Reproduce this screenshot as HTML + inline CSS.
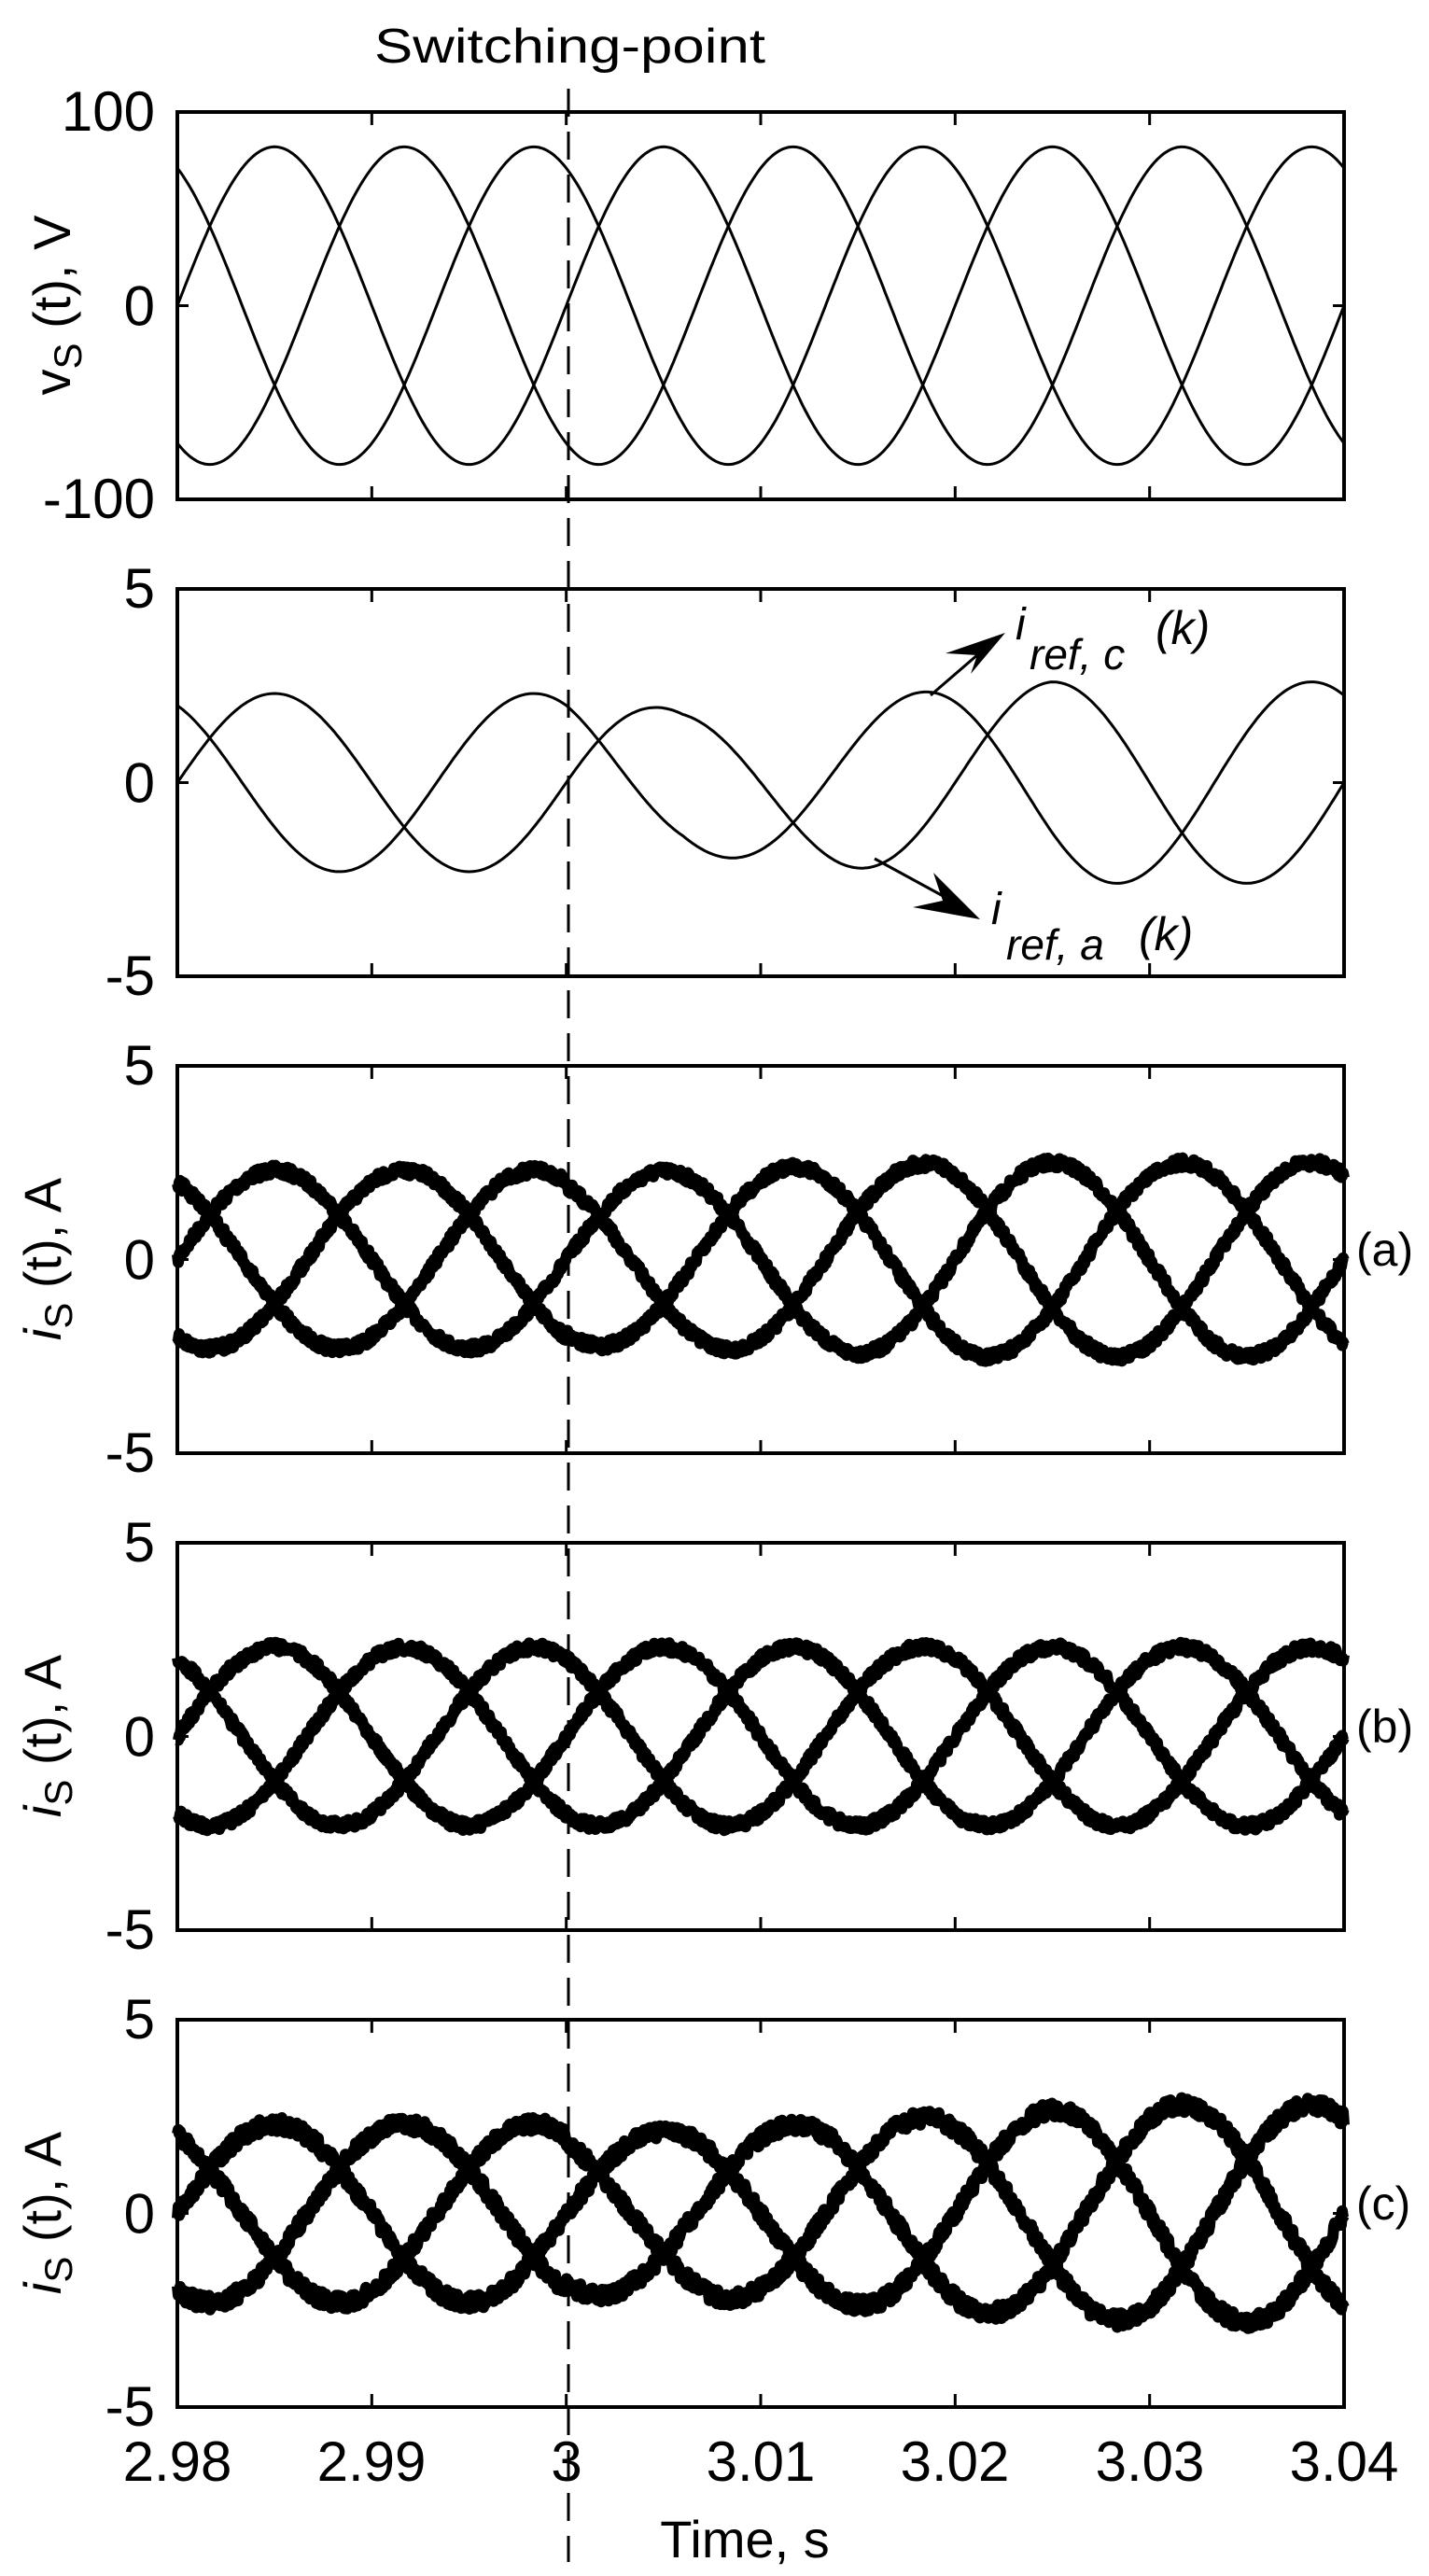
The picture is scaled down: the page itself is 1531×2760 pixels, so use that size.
<!DOCTYPE html>
<html><head><meta charset="utf-8"><style>
html,body{margin:0;padding:0;background:#fff;}
svg{display:block;}
text{font-family:"Liberation Sans",Arial,sans-serif;fill:#000;}
</style></head><body>
<svg id="s" width="1531" height="2760" viewBox="0 0 1531 2760" xmlns="http://www.w3.org/2000/svg">
<rect width="1531" height="2760" fill="#fff"/>
<g id="curves"></g>
<g id="frames" fill="none" stroke="#000" stroke-width="4"></g>
<line x1="609" y1="95" x2="609" y2="2745" stroke="#000" stroke-width="3" stroke-dasharray="30,16"/>
<text x="401" y="67" font-size="52" textLength="419" lengthAdjust="spacingAndGlyphs">Switching-point</text>
<g id="labels" font-size="60" text-anchor="end"></g>
<g font-size="60" text-anchor="middle">
<text x="190" y="2658">2.98</text><text x="398" y="2658">2.99</text><text x="607" y="2658">3</text>
<text x="815" y="2658">3.01</text><text x="1023" y="2658">3.02</text><text x="1232" y="2658">3.03</text><text x="1440" y="2658">3.04</text>
</g>
<text x="798" y="2740" font-size="56" text-anchor="middle">Time, s</text>
<text transform="translate(75,327) rotate(-90)" font-size="56" text-anchor="middle"><tspan>v</tspan><tspan font-size="42" dy="12">S</tspan><tspan dy="-12"> (t), V</tspan></text>
<text transform="translate(65,1349) rotate(-90)" font-size="56" text-anchor="middle"><tspan font-style="italic">i</tspan><tspan font-size="42" dy="12">S</tspan><tspan dy="-12"> (t), A</tspan></text>
<text transform="translate(65,1860) rotate(-90)" font-size="56" text-anchor="middle"><tspan font-style="italic">i</tspan><tspan font-size="42" dy="12">S</tspan><tspan dy="-12"> (t), A</tspan></text>
<text transform="translate(65,2371) rotate(-90)" font-size="56" text-anchor="middle"><tspan font-style="italic">i</tspan><tspan font-size="42" dy="12">S</tspan><tspan dy="-12"> (t), A</tspan></text>
<text x="1453" y="1356" font-size="50">(a)</text>
<text x="1453" y="1867" font-size="50">(b)</text>
<text x="1453" y="2378" font-size="50">(c)</text>
<line x1="997" y1="745" x2="1055" y2="695" stroke="#000" stroke-width="3"/>
<polygon points="1077,678 1040,722 1047,702 1013,700" fill="#000"/>
<line x1="937" y1="920" x2="1025" y2="968" stroke="#000" stroke-width="3"/>
<polygon points="1050,985 1000,935 1010,965 978,972" fill="#000"/>
<text x="1088" y="685" font-size="48" font-style="italic">i</text>
<text x="1103" y="717" font-size="46" font-style="italic">ref, c</text>
<text x="1238" y="690" font-size="50" font-style="italic">(k)</text>
<text x="1062" y="990" font-size="48" font-style="italic">i</text>
<text x="1078" y="1028" font-size="46" font-style="italic">ref, a</text>
<text x="1220" y="1018" font-size="50" font-style="italic">(k)</text>
</svg>
<script>
(function(){
var NS="http://www.w3.org/2000/svg";
var L=190,R=1440,W=R-L,H=415,tops=[120,631,1142,1653,2164];
var fr=document.getElementById('frames'),cv=document.getElementById('curves'),lb=document.getElementById('labels');
function el(p,n,a){var e=document.createElementNS(NS,n);for(var k in a)e.setAttribute(k,a[k]);p.appendChild(e);return e;}
var labs=[["100","0","-100"],["5","0","-5"],["5","0","-5"],["5","0","-5"],["5","0","-5"]];
tops.forEach(function(t,i){
 el(fr,'rect',{x:L,y:t,width:W,height:H});
 var d="";
 for(var k=1;k<6;k++){var x=L+k*W/6;d+="M"+x+" "+t+"v14M"+x+" "+(t+H)+"v-14";}
 d+="M"+L+" "+(t+H/2)+"h12M"+R+" "+(t+H/2)+"h-12";
 el(fr,'path',{d:d,'stroke-width':3});
 var ys=[t+20,t+H/2+21,t+H+20];
 for(var j=0;j<3;j++){var tx=el(lb,'text',{x:166,y:ys[j]});tx.textContent=labs[i][j];}
});
var seed=7;function rnd(){seed=(seed*16807)%2147483647;return seed/2147483647;}
function X(tt){return L+(tt-2.98)/0.06*W;}
function phase(tt,ph){return Math.sin(2*Math.PI*50*(tt-2.98)+ph);}
var PH=[0,-2*Math.PI/3,2*Math.PI/3];
PH.forEach(function(ph){var d="";for(var k=0;k<=600;k++){var tt=2.98+0.06*k/600;var y=tops[0]+H/2-82*phase(tt,ph)*H/200;d+=(k?"L":"M")+X(tt).toFixed(1)+" "+y.toFixed(1);}
 el(cv,'path',{d:d,fill:'none',stroke:'#000','stroke-width':3});});
function A2(tt){if(tt<3)return 2.3;var u=(tt-3)/0.006;if(tt<3.006)return 2.3-0.45*u;return Math.min(2.6,1.85+0.75*(tt-3.006)/0.019);}
[0,2*Math.PI/3].forEach(function(ph){var d="";for(var k=0;k<=600;k++){var tt=2.98+0.06*k/600;var y=tops[1]+H/2-A2(tt)*phase(tt,ph)*H/10;d+=(k?"L":"M")+X(tt).toFixed(1)+" "+y.toFixed(1);}
 el(cv,'path',{d:d,fill:'none',stroke:'#000','stroke-width':3});});
var amps=[function(tt){return tt<3?2.3:2.2+0.3*Math.min(1,(tt-3)/0.02);},function(tt){return 2.3;},function(tt){return tt<3?2.3:2.1+0.7*Math.min(1,(tt-3.005)/0.025>0?(tt-3.005)/0.025:0);}];
[2,3,4].forEach(function(pi,idx){
 PH.forEach(function(ph){var d="";var N=1250;for(var k=0;k<=N;k++){var tt=2.98+0.06*k/N;var n=(rnd()-0.5)*(pi==4?16:11);var y=tops[pi]+H/2-amps[idx](tt)*phase(tt,ph)*H/10+n;d+=(k?"L":"M")+X(tt).toFixed(1)+" "+y.toFixed(1);}
  el(cv,'path',{d:d,fill:'none',stroke:'#000','stroke-width':12,'stroke-linejoin':'round'});});
});
})();
</script>
</body></html>
